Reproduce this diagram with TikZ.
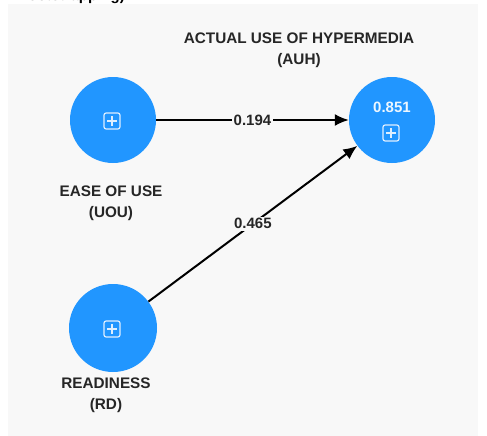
\documentclass[tikz,border=0pt]{standalone}
\usepackage{fontspec}
\setmainfont{Liberation Sans}
\usetikzlibrary{arrows.meta,calc}
\definecolor{bgcol}{HTML}{F8F8F8}
\definecolor{lvblue}{HTML}{2196FF}
\tikzset{
  lv/.style={circle, fill=lvblue, draw=none, minimum size=#1, inner sep=0pt},
  lbl/.style={font=\fontsize{15.3}{21}\selectfont\bfseries, align=center, text=black!85, inner sep=0pt},
  coef/.style={font=\fontsize{15}{16}\selectfont\bfseries, fill=bgcol, inner sep=1.5pt, text=black!85},
  path/.style={line width=2pt, black, -{Latex[length=14pt,width=12pt]}},
  icon/.style={draw=white!85!lvblue, line width=1.2pt, rounded corners=2.2pt},
}
\newcommand{\plusicon}[1]{%
  \draw[icon] ($(#1)+(-8,-8)$) rectangle ($(#1)+(8,8)$);
  \draw[draw=white!85!lvblue, line width=1.2pt] ($(#1)+(-5,0)$) -- ($(#1)+(5,0)$) ($(#1)+(0,-5)$) -- ($(#1)+(0,5)$);
}
\begin{document}
\begin{tikzpicture}[x=1pt,y=-1pt]
\useasboundingbox (0,0) rectangle (487,436);
\clip (0,0) rectangle (487,436);
\fill[white] (0,0) rectangle (487,436);
\fill[bgcol] (8,4) rectangle (478,436);
\node[anchor=base east, font=\fontsize{15}{18}\selectfont\bfseries, inner sep=0pt] (title) at (125,1) {Bootstrapping)};
% latent variables
\node[lv=86pt] (uou) at (113,120) {};
\node[lv=86pt] (auh) at (392,120) {};
\node[lv=88pt] (rd) at (113,328) {};
\coordinate (uouc) at (112,121);
\coordinate (rdc) at (112,329);
\coordinate (auhc) at (391,133);
\plusicon{uouc}
\plusicon{rdc}
\plusicon{auhc}
\node[font=\fontsize{15}{16}\selectfont\bfseries, text=white!92!lvblue, inner sep=0pt] (r2) at (392,107) {0.851};
% labels
\node[lbl] (uoulbl) at (111,203.5) {EASE OF USE\\(UOU)};
\node[lbl] (rdlbl) at (106,395) {READINESS\\(RD)};
\node[lbl] (auhlbl) at (299,50.5) {ACTUAL USE OF HYPERMEDIA\\(AUH)};
% paths
\draw[path] (uou) -- node[coef] (c1) {0.194} (auh);
\draw[path] (rd) -- node[coef] (c2) {0.465} (auh);
\end{tikzpicture}
\end{document}
